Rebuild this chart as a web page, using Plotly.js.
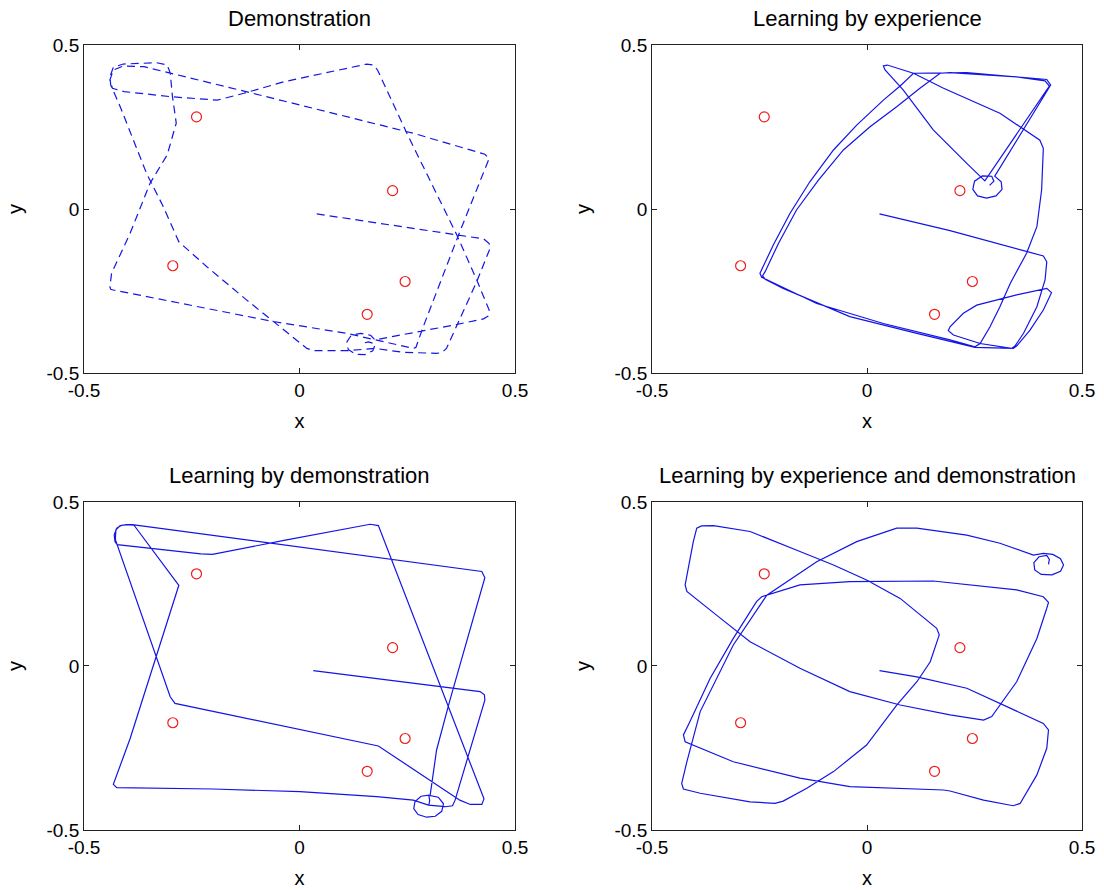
<!DOCTYPE html>
<html>
<head>
<meta charset="utf-8">
<script src="https://cdn.plot.ly/plotly-3.0.1.min.js"></script>
<style>
  html, body { margin: 0; padding: 0; background: #fff; }
  #chart { width: 1104px; height: 890px; }
</style>
</head>
<body>
<div id="chart"></div>
<script>
// ---- Data ----
const tickVals = [-0.5, 0, 0.5];
const tickText = ['-0.5', '0', '0.5'];

const panelTitles = [
  'Demonstration',
  'Learning by experience',
  'Learning by demonstration',
  'Learning by experience and demonstration'
];

// Target positions (red circles), identical in all panels
const targetX = [-0.239, 0.216, -0.294, 0.245, 0.157];
const targetY = [0.281, 0.056, -0.173, -0.221, -0.321];

// Panel 1: Demonstration (dashed)
const demoX = [0.040, 0.365, 0.427, 0.440, 0.442, 0.411, 0.341, 0.330, 0.318, 0.241, 0.175, 0.109, 0.048, 0.032, 0.017,
  -0.045, -0.123, -0.215, -0.273, -0.280, -0.316, -0.355, -0.416, -0.438, -0.440, -0.432, -0.409, -0.331, -0.307, -0.300,
  -0.295, -0.286, -0.307, -0.347, -0.393, -0.436, -0.440, -0.438, -0.432, -0.277, -0.061, 0.109, 0.218, 0.264, 0.270,
  0.287, 0.369, 0.436, 0.440, 0.430, 0.264, -0.115, -0.299, -0.361, -0.409, -0.432, -0.440, -0.434, -0.407, -0.295,
  -0.191, -0.129, -0.036, 0.156, 0.171, 0.181, 0.249, 0.365, 0.411, 0.440, 0.438, 0.427, 0.357, 0.280, 0.175,
  0.165, 0.142, 0.120, 0.110, 0.113, 0.130, 0.152, 0.170, 0.176, 0.160, 0.145];
const demoY = [-0.015, -0.079, -0.091, -0.105, -0.120, -0.222, -0.425, -0.438, -0.440, -0.437, -0.425, -0.432, -0.433, -0.432, -0.425,
  -0.359, -0.277, -0.176, -0.110, -0.100, 0.007, 0.109, 0.312, 0.378, 0.403, 0.432, 0.442, 0.446, 0.439, 0.415,
  0.345, 0.262, 0.165, 0.078, -0.074, -0.196, -0.237, -0.245, -0.247, -0.288, -0.343, -0.379, -0.410, -0.425, -0.422,
  -0.359, -0.079, 0.139, 0.154, 0.167, 0.231, 0.355, 0.414, 0.434, 0.436, 0.424, 0.393, 0.368, 0.358, 0.342,
  0.332, 0.353, 0.388, 0.442, 0.439, 0.424, 0.231, -0.079, -0.216, -0.308, -0.326, -0.335, -0.354, -0.374, -0.399,
  -0.385, -0.379, -0.385, -0.405, -0.428, -0.443, -0.444, -0.432, -0.412, -0.405, -0.410];

// Panel 2: Learning by experience
const expX = [0.029, 0.193, 0.364, 0.410, 0.418, 0.414, 0.395, 0.364, 0.344, 0.336, 0.263, 0.201, 0.189, 0.193, 0.224,
  0.255, 0.348, 0.418, 0.429, 0.410, 0.379, 0.348, 0.340, 0.251, 0.116, -0.040, -0.195, -0.237, -0.243, -0.237,
  -0.206, -0.164, -0.113, -0.055, 0.007, 0.069, 0.123, 0.170, 0.193, 0.348, 0.414, 0.424, 0.274, 0.232, 0.154,
  0.084, 0.042, 0.038, 0.047, 0.060, 0.108, 0.178, 0.309, 0.402, 0.410, 0.406, 0.395, 0.371, 0.333, 0.309,
  0.286, 0.263, 0.251, 0.193, 0.038, -0.117, -0.245, -0.249, -0.218, -0.179, -0.133, -0.078, -0.024, 0.038, 0.077,
  0.108, 0.232, 0.418, 0.427, 0.297, 0.312, 0.314, 0.300, 0.278, 0.257, 0.246, 0.250, 0.268, 0.290, 0.295,
  0.285];
const expY = [-0.015, -0.066, -0.127, -0.143, -0.161, -0.216, -0.298, -0.379, -0.418, -0.425, -0.410, -0.384, -0.371, -0.359, -0.318,
  -0.293, -0.262, -0.242, -0.255, -0.308, -0.369, -0.418, -0.425, -0.422, -0.379, -0.328, -0.242, -0.214, -0.204, -0.191,
  -0.105, -0.003, 0.088, 0.180, 0.251, 0.312, 0.368, 0.414, 0.416, 0.403, 0.391, 0.375, 0.086, 0.139, 0.241,
  0.363, 0.424, 0.436, 0.439, 0.434, 0.414, 0.368, 0.292, 0.210, 0.185, 0.058, -0.054, -0.135, -0.227, -0.298,
  -0.359, -0.410, -0.420, -0.399, -0.349, -0.288, -0.208, -0.196, -0.110, -0.013, 0.083, 0.180, 0.256, 0.332, 0.375,
  0.414, 0.416, 0.395, 0.378, 0.100, 0.083, 0.060, 0.040, 0.033, 0.040, 0.060, 0.085, 0.101, 0.100, 0.085,
  0.072];

// Panel 3: Learning by demonstration
const ldemoX = [0.032, 0.419, 0.429, 0.430, 0.361, 0.355, 0.338, 0.299, 0.264, 0.179, 0.001, -0.200, -0.424, -0.432, -0.393,
  -0.280, -0.384, -0.401, -0.416, -0.426, -0.427, -0.427, -0.300, -0.289, 0.183, 0.256, 0.372, 0.396, 0.423, 0.428,
  0.183, 0.164, -0.036, -0.202, -0.229, -0.423, -0.428, -0.430, -0.424, -0.413, -0.388, 0.423, 0.430, 0.349, 0.318,
  0.303, 0.322, 0.334, 0.330, 0.315, 0.295, 0.275, 0.265, 0.268, 0.282, 0.300, 0.302, 0.300];
const ldemoY = [-0.014, -0.078, -0.088, -0.104, -0.409, -0.426, -0.429, -0.424, -0.409, -0.398, -0.383, -0.375, -0.371, -0.361, -0.221,
  0.246, 0.429, 0.431, 0.428, 0.415, 0.394, 0.384, -0.094, -0.114, -0.244, -0.307, -0.409, -0.422, -0.422, -0.405,
  0.428, 0.432, 0.383, 0.340, 0.342, 0.370, 0.379, 0.400, 0.420, 0.429, 0.431, 0.288, 0.269, -0.104, -0.256,
  -0.395, -0.400, -0.420, -0.443, -0.458, -0.461, -0.453, -0.435, -0.413, -0.397, -0.394, -0.410, -0.424];

// Panel 4: Learning by experience and demonstration
const bothX = [0.029, 0.116, 0.232, 0.309, 0.410, 0.422, 0.418, 0.395, 0.356, 0.340, 0.271, 0.193, 0.178, -0.040, -0.156,
  -0.311, -0.423, -0.427, -0.412, -0.365, -0.311, -0.257, -0.245, -0.156, -0.040, 0.154, 0.348, 0.410, 0.422, 0.418,
  0.395, 0.348, 0.290, 0.271, 0.193, 0.077, -0.040, -0.156, -0.272, -0.350, -0.419, -0.423, -0.404, -0.396, -0.385,
  -0.357, -0.272, -0.156, -0.078, -0.001, 0.077, 0.162, 0.168, 0.147, 0.116, 0.069, -0.001, -0.078, -0.140, -0.195,
  -0.214, -0.272, -0.388, -0.427, -0.431, -0.419, -0.388, -0.311, -0.233, -0.117, -0.024, 0.069, 0.116, 0.232, 0.309,
  0.387, 0.410, 0.432, 0.450, 0.457, 0.450, 0.430, 0.405, 0.390, 0.388, 0.400, 0.418, 0.424, 0.422];
const bothY = [-0.014, -0.033, -0.068, -0.114, -0.175, -0.195, -0.251, -0.332, -0.419, -0.426, -0.409, -0.381, -0.378, -0.368, -0.342,
  -0.292, -0.231, -0.210, -0.170, -0.038, 0.084, 0.196, 0.211, 0.247, 0.257, 0.259, 0.232, 0.211, 0.194, 0.176,
  0.084, -0.048, -0.154, -0.165, -0.149, -0.119, -0.078, -0.007, 0.074, 0.155, 0.227, 0.247, 0.379, 0.420, 0.427,
  0.428, 0.410, 0.349, 0.308, 0.262, 0.206, 0.115, 0.095, 0.013, -0.048, -0.119, -0.241, -0.322, -0.373, -0.412,
  -0.419, -0.414, -0.388, -0.375, -0.358, -0.292, -0.139, 0.064, 0.216, 0.318, 0.379, 0.420, 0.420, 0.399, 0.374,
  0.338, 0.343, 0.340, 0.327, 0.308, 0.289, 0.278, 0.279, 0.293, 0.315, 0.333, 0.337, 0.325, 0.310];

// ---- Figure construction ----
const paths = [[demoX, demoY], [expX, expY], [ldemoX, ldemoY], [bothX, bothY]];
const dashes = ['8px,5px', 'solid', 'solid', 'solid'];

const xDomains = [[0.0761, 0.4665], [0.5906, 0.9801], [0.0761, 0.4665], [0.5906, 0.9801]];
const yDomains = [[0.5809, 0.9494], [0.5809, 0.9494], [0.0674, 0.4360], [0.0674, 0.4360]];
const titleY = [0.9795, 0.9795, 0.4655, 0.4655];

const FONT = 'Liberation Sans, Arial, Helvetica, sans-serif';
const traces = [];
const layout = {
  width: 1104, height: 890,
  margin: {l: 0, r: 0, t: 0, b: 0},
  paper_bgcolor: '#ffffff', plot_bgcolor: '#ffffff',
  showlegend: false,
  font: {family: FONT, color: '#000000', size: 18},
  annotations: []
};

paths.forEach((p, i) => {
  const n = i + 1;
  const xa = n === 1 ? 'x' : 'x' + n;
  const ya = n === 1 ? 'y' : 'y' + n;
  traces.push({
    x: p[0], y: p[1], type: 'scatter', mode: 'lines',
    line: {color: '#1414e6', width: 1.2, dash: dashes[i]},
    xaxis: xa, yaxis: ya, hoverinfo: 'skip'
  });
  traces.push({
    x: targetX, y: targetY, type: 'scatter', mode: 'markers',
    marker: {symbol: 'circle-open', size: 10, color: '#ee1c1c', line: {width: 1.2, color: '#ee1c1c'}},
    xaxis: xa, yaxis: ya, hoverinfo: 'skip'
  });
  const common = {
    range: [-0.5, 0.5], tickmode: 'array', tickvals: tickVals, ticktext: tickText,
    ticks: 'inside', ticklen: 5, tickwidth: 1, tickcolor: '#222222',
    showline: true, linecolor: '#222222', linewidth: 1, mirror: 'ticks',
    showgrid: false, zeroline: false, fixedrange: true,
    tickfont: {family: FONT, size: 19, color: '#000000'}
  };
  layout['xaxis' + (n === 1 ? '' : n)] = Object.assign({}, common, {
    domain: xDomains[i], anchor: ya,
    title: {text: 'x', font: {family: FONT, size: 20, color: '#000000'}, standoff: 14}
  });
  layout['yaxis' + (n === 1 ? '' : n)] = Object.assign({}, common, {
    domain: yDomains[i], anchor: xa,
    title: {text: 'y', font: {family: FONT, size: 20, color: '#000000'}, standoff: 18}
  });
  layout.annotations.push({
    text: panelTitles[i], xref: 'paper', yref: 'paper',
    x: (xDomains[i][0] + xDomains[i][1]) / 2,
    y: titleY[i],
    xanchor: 'center', yanchor: 'middle', showarrow: false,
    font: {family: FONT, size: 22, color: '#000000'}
  });
});

Plotly.newPlot('chart', traces, layout, {staticPlot: true, displayModeBar: false});
</script>
</body>
</html>
